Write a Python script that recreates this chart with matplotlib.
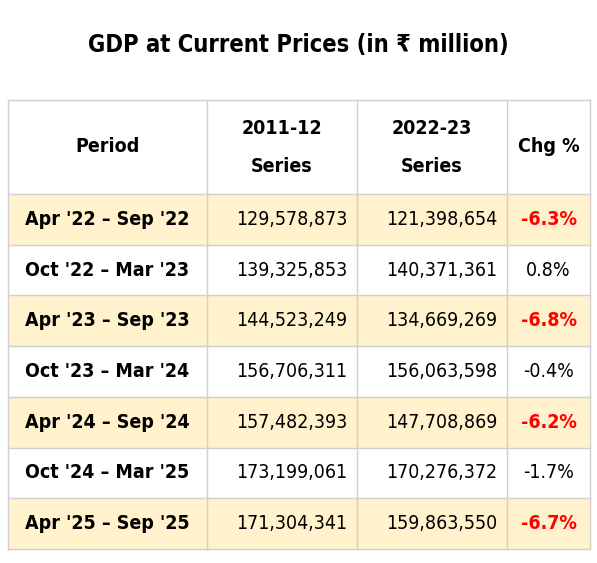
import matplotlib
matplotlib.use("Agg")
import matplotlib.pyplot as plt
from matplotlib.patches import Rectangle

periods = ["Apr '22 – Sep '22", "Oct '22 – Mar '23", "Apr '23 – Sep '23", "Oct '23 – Mar '24",
           "Apr '24 – Sep '24", "Oct '24 – Mar '25", "Apr '25 – Sep '25"]
s2011 = [129578873, 139325853, 144523249, 156706311, 157482393, 173199061, 171304341]
s2022 = [121398654, 140371361, 134669269, 156063598, 147708869, 170276372, 159863550]
chg = [-6.3, 0.8, -6.8, -0.4, -6.2, -1.7, -6.7]
headers = ["Period", "2011-12\n\nSeries", "2022-23\n\nSeries", "Chg %"]

fam = ['DejaVu Sans']
st = 'condensed'
fs = 14
fig = plt.figure(figsize=(5.97, 5.63), dpi=100)
ax = fig.add_axes([0, 0, 1, 1])
ax.set_xlim(0, 597); ax.set_ylim(563, 0); ax.axis('off')

cols = [8, 207, 357, 507, 590]
top, hb, rh = 100, 194, 50.7
ax.text(298, 45, "GDP at Current Prices (in ₹ million)", ha='center', va='center',
        fontsize=17, fontweight='bold', family=fam, fontstretch=st)
lc = '#d0d0d0'
for i in range(len(periods)):
    y0 = hb + i * rh
    if i % 2 == 0:
        ax.add_patch(Rectangle((cols[0], y0), cols[-1] - cols[0], rh, color='#FFF2CC', zorder=0))
    yc = y0 + rh / 2
    ax.text((cols[0] + cols[1]) / 2, yc, periods[i], ha='center', va='center', fontsize=fs,
            fontweight='bold', family=fam, fontstretch=st)
    ax.text(cols[2] - 10, yc, f"{s2011[i]:,}", ha='right', va='center', fontsize=fs, family=fam, fontstretch=st)
    ax.text(cols[3] - 10, yc, f"{s2022[i]:,}", ha='right', va='center', fontsize=fs, family=fam, fontstretch=st)
    big = chg[i] < -5
    ax.text((cols[3] + cols[4]) / 2, yc, f"{chg[i]:.1f}%", ha='center', va='center', fontsize=fs,
            fontweight='bold' if big else 'normal', color='#FF0000' if big else 'black',
            family=fam, fontstretch=st)
bottom = hb + len(periods) * rh
for j, h in enumerate(headers):
    ax.text((cols[j] + cols[j + 1]) / 2, (top + hb) / 2, h, ha='center', va='center', fontsize=fs,
            fontweight='bold', family=fam, linespacing=1.0, fontstretch=st)
for x in cols:
    ax.plot([x, x], [top, bottom], color=lc, lw=1)
for k in range(len(periods) + 1):
    y = hb + k * rh
    ax.plot([cols[0], cols[-1]], [y, y], color=lc, lw=1)
ax.plot([cols[0], cols[-1]], [top, top], color=lc, lw=1)
fig.savefig("out.png", dpi=100)
